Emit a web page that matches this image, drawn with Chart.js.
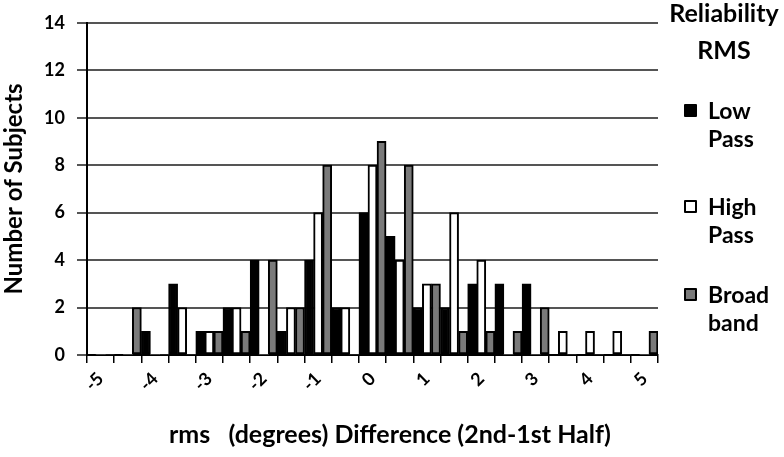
<!DOCTYPE html>
<html>
<head>
  <title>Reliability RMS histogram</title>
  <script src="https://cdn.jsdelivr.net/npm/chart.js"></script>
  <style>
    body { margin: 0; background: #fff; font-family: Lato, sans-serif; }
    .wrap { position: relative; width: 784px; height: 457px; }
    .legend { position: absolute; left: 660px; top: 0; width: 124px; color: #000; }
    .legend .title { font-weight: bold; font-size: 25px; text-align: center; line-height: 37px; position: absolute; left: 2px; width: 124px; }
    .legend .item { position: absolute; left: 24px; font-size: 23px; font-weight: bold; line-height: 28px; }
    .legend .box { position: absolute; left: 0; top: 8px; width: 9px; height: 9px; border: 2px solid #000; border-radius: 1px; }
    .legend .txt { position: absolute; left: 24px; top: 0; white-space: nowrap; }
  </style>
</head>
<body>
  <div class="wrap">
    <canvas id="chart" width="784" height="457"></canvas>
    <div class="legend" id="legend">
      <div class="title" style="top:-6px">Reliability<br>RMS</div>
    </div>
  </div>
  <script>
    // bin centres of the rms difference (degrees)
    const bins = ['-5', '-4.5', '-4', '-3.5', '-3', '-2.5', '-2', '-1.5', '-1', '-0.5', '0',
                  '0.5', '1', '1.5', '2', '2.5', '3', '3.5', '4', '4.5', '5'];
    // only whole numbers get a label
    const shownTicks = ['-5', '-4', '-3', '-2', '-1', '0', '1', '2', '3', '4', '5'];

    const lowPass   = [0, 0, 1, 3, 1, 2, 4, 1, 4, 2, 6, 5, 2, 2, 3, 3, 3, 0, 0, 0, 0];
    const highPass  = [0, 0, 0, 2, 1, 2, 0, 2, 6, 2, 8, 4, 3, 6, 4, 0, 0, 1, 1, 1, 0];
    const broadBand = [0, 2, 0, 0, 1, 1, 4, 2, 8, 0, 9, 8, 3, 1, 1, 1, 2, 0, 0, 0, 1];

    const series = [
      { name: ['Low', 'Pass'], data: lowPass, color: '#000000', top: 96 },
      { name: ['High', 'Pass'], data: highPass, color: '#ffffff', top: 192 },
      { name: ['Broad', 'band'], data: broadBand, color: '#7a7a7a', top: 280 }
    ];

    const xTitle = 'rms   (degrees) Difference (2nd-1st Half)';

    // legend on the right, two-line labels
    const legend = document.getElementById('legend');
    series.forEach(s => {
      const item = document.createElement('div');
      item.className = 'item';
      item.style.top = s.top + 'px';
      item.innerHTML = '<div class="box" style="background:' + s.color + '"></div>' +
        '<div class="txt">' + s.name.join('<br>') + '</div>';
      legend.appendChild(item);
    });

    const tickFont = { family: 'Lato', size: 18, weight: 'bold' };

    // x title sits a bit right of the plot centre in the original
    const xTitlePlugin = {
      id: 'xTitle',
      afterDraw(chart) {
        const ctx = chart.ctx;
        ctx.save();
        ctx.font = 'bold 25px Lato';
        ctx.fillStyle = '#000';
        ctx.textAlign = 'center';
        ctx.textBaseline = 'middle';
        ctx.fillText(xTitle, 390, 435);
        ctx.restore();
      }
    };

    new Chart(document.getElementById('chart'), {
      type: 'bar',
      data: {
        labels: bins,
        datasets: series.map(s => ({
          label: s.name.join(' '),
          data: s.data,
          backgroundColor: s.color,
          borderColor: '#000',
          borderWidth: ctx => (ctx.raw ? 2 : 0),
          borderSkipped: false,
          barPercentage: 1,
          categoryPercentage: 1
        }))
      },
      options: {
        responsive: false,
        devicePixelRatio: 1,
        animation: false,
        layout: { padding: { top: 11, right: 126, left: 0, bottom: 0 } },
        plugins: {
          legend: { display: false },
          tooltip: { enabled: false }
        },
        scales: {
          x: {
            afterFit: s => { s.height = 102; },
            grid: { drawOnChartArea: false, color: '#000', lineWidth: 1.5, tickLength: 8 },
            border: { color: '#000', width: 2 },
            ticks: {
              color: '#000',
              font: tickFont,
              autoSkip: false,
              minRotation: 45,
              maxRotation: 45,
              padding: 5,
              callback: (v, i) => (shownTicks.includes(bins[i]) ? bins[i] : '')
            }
          },
          y: {
            min: 0,
            max: 14,
            afterFit: s => { s.width = 87; },
            ticks: { stepSize: 2, color: '#000', font: tickFont, padding: 12 },
            grid: { color: '#555', lineWidth: 2, tickLength: 10 },
            border: { color: '#000', width: 2 },
            title: {
              display: true,
              text: 'Number of Subjects',
              color: '#000',
              font: { family: 'Lato', size: 24, weight: 'bold' },
              padding: { top: 0, bottom: 0 }
            }
          }
        }
      },
      plugins: [xTitlePlugin]
    });
  </script>
</body>
</html>
